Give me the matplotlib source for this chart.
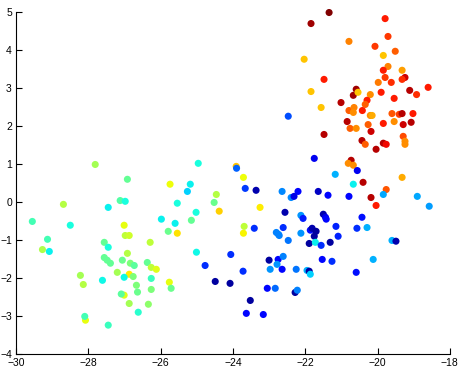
import matplotlib
matplotlib.use("Agg")
import matplotlib.pyplot as plt

# points: x, y and colour value (jet, 0..1)
red_x = [-21.34, -21.84, -19.79, -19.71, -20.79, -20.07, -19.51, -19.84, -22.03, -19.71,
         -19.32, -19.84, -21.48, -19.79, -19.24, -19.32, -19.98, -19.62, -18.60, -19.11,
         -18.92, -21.84, -20.59, -20.67, -20.54, -20.20, -19.90, -19.54, -21.01, -20.29,
         -20.34, -21.56, -20.79, -20.65, -20.67, -20.42, -20.20, -20.15, -19.60, -19.40,
         -19.32, -19.02, -20.84, -20.26, -19.84, -19.54, -19.29, -19.07, -20.76, -20.59,
         -20.18, -21.48, -19.29, -19.24, -19.24, -20.43, -20.34, -19.84, -19.76, -20.04,
         -22.47, -21.75, -20.73, -20.81, -20.67, -20.56, -21.17, -19.32, -20.40, -20.67,
         -23.91, -23.90, -23.71, -19.76]
red_y = [4.99, 4.70, 4.83, 4.36, 4.23, 4.10, 3.97, 3.86, 3.76, 3.57,
         3.47, 3.47, 3.23, 3.28, 3.28, 3.23, 3.15, 3.15, 3.02, 2.94,
         2.83, 2.91, 2.97, 2.81, 2.89, 2.83, 2.89, 2.73, 2.62, 2.68,
         2.57, 2.49, 2.41, 2.49, 2.36, 2.41, 2.28, 2.28, 2.33, 2.31,
         2.33, 2.33, 2.12, 2.04, 2.07, 2.12, 2.04, 2.10, 1.94, 1.94,
         1.86, 1.78, 1.73, 1.60, 1.52, 1.62, 1.52, 1.55, 1.52, 1.39,
         2.26, 1.15, 1.10, 1.02, 0.97, 0.83, 0.73, 0.65, 0.52, 0.47,
         0.94, 0.89, 0.65, 0.33]
red_c = [1.00, 0.97, 0.88, 0.85, 0.77, 0.85, 0.81, 0.70, 0.70, 0.77,
         0.74, 0.88, 0.88, 0.85, 0.93, 0.86, 0.78, 0.86, 0.88, 0.95,
         0.86, 0.70, 0.97, 0.97, 0.70, 0.76, 0.88, 0.88, 0.95, 0.88,
         0.81, 0.70, 0.81, 0.77, 0.76, 0.88, 0.76, 0.73, 0.82, 0.84,
         0.95, 0.88, 0.95, 0.81, 0.88, 0.76, 0.93, 0.95, 0.81, 0.76,
         0.93, 0.95, 0.83, 0.76, 0.76, 0.95, 0.81, 0.95, 0.90, 0.95,
         0.20, 0.10, 0.95, 0.76, 0.76, 0.10, 0.30, 0.73, 0.95, 0.36,
         0.70, 0.22, 0.64, 0.82]

blue_x = [-23.66, -23.36, -22.64, -22.20, -22.39, -22.31, -21.64, -21.37, -20.79, -20.18,
          -19.84, -20.04, -18.90, -18.57, -23.25, -22.56, -22.12, -22.06, -21.50, -21.44,
          -21.42, -20.43, -23.69, -23.71, -23.41, -22.61, -22.80, -22.74, -22.72, -22.47,
          -22.12, -21.86, -21.81, -21.70, -21.75, -21.89, -21.72, -21.56, -21.31, -21.15,
          -21.09, -20.57, -20.29, -19.60, -19.49, -24.06, -23.00, -22.75, -22.61, -22.78,
          -22.97, -22.64, -22.25, -21.95, -21.89, -21.86, -21.53, -21.26, -20.12, -20.59,
          -23.72, -24.08, -23.05, -22.83, -22.28, -22.22, -23.52, -23.63, -23.16]
blue_y = [0.36, 0.31, 0.28, 0.28, 0.12, 0.15, 0.28, 0.18, 0.15, 0.12,
          0.20, -0.09, 0.15, -0.11, -0.14, -0.27, -0.35, -0.43, -0.32, -0.40,
          -0.45, -0.40, -0.64, -0.82, -0.69, -0.67, -0.80, -0.85, -0.88, -1.01,
          -0.82, -0.74, -0.69, -0.77, -0.90, -1.09, -1.06, -1.14, -1.06, -0.64,
          -0.90, -0.69, -0.67, -1.01, -1.03, -1.38, -1.53, -1.51, -1.43, -1.64,
          -1.77, -1.77, -1.77, -1.80, -1.82, -1.90, -1.51, -1.56, -1.51, -1.85,
          -1.82, -2.14, -2.27, -2.27, -2.38, -2.32, -2.59, -2.93, -2.96]
blue_c = [0.18, 0.04, 0.26, 0.13, 0.26, 0.09, 0.06, 0.13, 0.13, 0.95,
          0.29, 0.88, 0.29, 0.28, 0.66, 0.04, 0.27, 0.15, 0.04, 0.09,
          0.13, 0.14, 0.58, 0.65, 0.17, 0.17, 0.25, 0.25, 0.25, 0.24,
          0.27, 0.14, 0.04, 0.03, 0.03, 0.03, 0.36, 0.17, 0.03, 0.16,
          0.16, 0.17, 0.30, 0.30, 0.04, 0.17, 0.03, 0.13, 0.25, 0.27,
          0.27, 0.13, 0.24, 0.30, 0.03, 0.33, 0.13, 0.17, 0.30, 0.14,
          0.17, 0.03, 0.13, 0.23, 0.03, 0.25, 0.03, 0.13, 0.13]

mid_x = [-24.96, -25.74, -25.18, -25.26, -25.54, -24.46, -24.52, -24.38, -25.02, -25.60,
         -25.15, -25.98, -25.79, -25.54, -25.01, -24.77, -24.49]
mid_y = [1.02, 0.47, 0.47, 0.28, -0.03, 0.20, -0.01, -0.24, -0.27, -0.56,
         -0.48, -0.45, -0.77, -0.82, -1.32, -1.67, -2.09]
mid_c = [0.38, 0.64, 0.36, 0.33, 0.38, 0.57, 0.48, 0.69, 0.38, 0.36,
         0.47, 0.36, 0.48, 0.67, 0.37, 0.17, 0.03]

green_x = [-27.81, -26.92, -27.12, -26.98, -27.45, -28.69, -29.55, -28.50, -29.13, -29.08,
           -29.27, -27.01, -26.98, -26.87, -26.29, -27.56, -27.45, -27.56, -27.48, -27.39,
           -27.06, -26.84, -26.73, -26.92, -27.20, -26.87, -26.76, -27.01, -26.37, -26.26,
           -26.12, -26.26, -25.76, -28.22, -28.14, -27.61, -26.67, -26.64, -26.26, -25.71,
           -27.01, -27.09, -26.87, -26.34, -26.62, -28.08, -28.10, -27.45]
green_y = [0.99, 0.60, 0.04, 0.02, -0.14, -0.06, -0.51, -0.61, -0.98, -1.30,
           -1.25, -0.61, -0.88, -0.88, -1.06, -1.06, -1.19, -1.46, -1.53, -1.61,
           -1.53, -1.61, -1.67, -1.35, -1.85, -1.90, -1.96, -1.98, -1.59, -1.72,
           -1.77, -2.01, -2.11, -1.93, -2.17, -2.06, -2.19, -2.37, -2.30, -2.27,
           -2.45, -2.42, -2.67, -2.69, -2.90, -3.11, -3.01, -3.24]
green_c = [0.55, 0.47, 0.45, 0.38, 0.36, 0.57, 0.43, 0.38, 0.43, 0.36,
           0.56, 0.63, 0.58, 0.60, 0.58, 0.47, 0.38, 0.47, 0.47, 0.47,
           0.48, 0.50, 0.46, 0.57, 0.55, 0.66, 0.50, 0.37, 0.47, 0.58,
           0.62, 0.42, 0.63, 0.55, 0.57, 0.37, 0.50, 0.48, 0.50, 0.48,
           0.62, 0.46, 0.55, 0.52, 0.40, 0.63, 0.43, 0.42]

x = red_x + blue_x + mid_x + green_x
y = red_y + blue_y + mid_y + green_y
c = red_c + blue_c + mid_c + green_c

fig = plt.figure(figsize=(4.59, 3.68), dpi=100)
ax = fig.add_axes([0.035, 0.038, 0.945, 0.929])
ax.scatter(x, y, c=c, cmap="jet", vmin=0, vmax=1, s=26, linewidths=0, clip_on=False)

ax.set_xlim(-30, -18)
ax.set_ylim(-4, 5)
ax.set_xticks(range(-30, -17, 2))
ax.set_yticks(range(-4, 6))
ax.spines["top"].set_visible(False)
ax.spines["right"].set_visible(False)
ax.tick_params(direction="in", length=4.5, width=0.8, labelsize=7.5, pad=3)
for lab in ax.get_xticklabels() + ax.get_yticklabels():
    lab.set_family("Liberation Sans")

fig.savefig("out.png", dpi=100)
